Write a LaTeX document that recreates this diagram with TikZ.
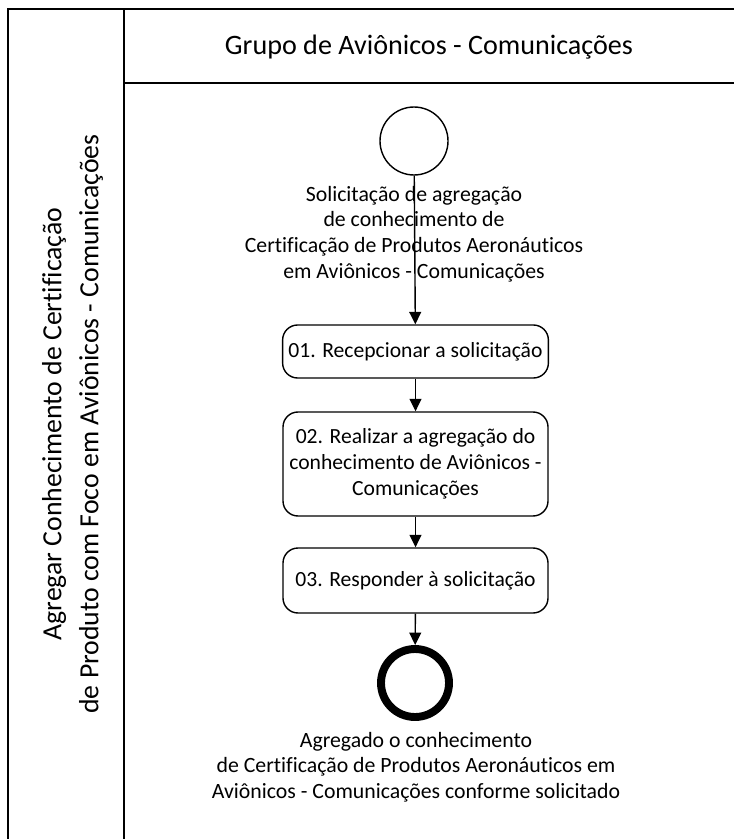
\documentclass[tikz,border=0pt]{standalone}
\usepackage{fontspec}
\setmainfont{Carlito}[Ligatures=NoCommon]
\usetikzlibrary{arrows.meta}
\usetikzlibrary{positioning}
\tikzset{
  lane/.style={line width=1.1pt},
  activity/.style={draw, rounded corners=0.3cm, minimum width=5.3cm, align=center,
    line width=0.8pt, font=\fontsize{12.3}{14.8}\selectfont},
  startev/.style={draw, circle, minimum size=1.36cm, line width=0.8pt},
  endev/.style={draw, circle, minimum size=1.36cm, line width=4.5pt},
  evlabel/.style={align=center, font=\fontsize{12.4}{14.6}\selectfont},
  flow/.style={-{Triangle[length=0.25cm,width=0.24cm]}, line width=0.8pt}
}

\begin{document}
\begin{tikzpicture}
  \useasboundingbox (0,0) rectangle (14.68,-16.78);

  % pool and lane
  \draw [lane] (0.16,-16.78) -- (0.16,-0.18) -- (14.68,-0.18);
  \draw [lane] (2.48,-0.18) -- (2.48,-16.78);
  \draw [lane] (2.48,-1.66) -- (14.68,-1.66);

  \node (lanetitle) at (8.58,-0.94) [font=\fontsize{16}{19}\selectfont] {Grupo de Aviônicos - Comunicações};
  \node (pooltitle) at (1.45,-8.48) [rotate=90, align=center, font=\fontsize{15.8}{21}\selectfont]
    {Agregar Conhecimento de Certificação\\de Produto com Foco em Aviônicos - Comunicações};

  % events and activities
  \node [startev] (start) at (8.28,-2.82) {};
  \node [evlabel] (startlbl) at (8.28,-4.68) {Solicitação de agregação\\de conhecimento de\\Certificação de Produtos Aeronáuticos\\em Aviônicos - Comunicações};

  \node [activity, minimum height=1.06cm] (recep) at (8.31,-7.03) {01. Recepcionar a solicitação};
  \node [activity, minimum height=2.08cm] (agreg) at (8.31,-9.28) {02. Realizar a agregação do\\conhecimento de Aviônicos -\\Comunicações};
  \node [activity, minimum height=1.3cm] (resp) at (8.31,-11.61) {03. Responder à solicitação};

  \node [endev] (fim) at (8.3,-13.66) {};
  \node [evlabel] (fimlbl) at (8.32,-15.34) {Agregado o conhecimento\\de Certificação de Produtos Aeronáuticos em\\Aviônicos - Comunicações conforme solicitado};

  \draw [flow] (start) -- (recep);
  \draw [flow] (recep) -- (agreg);
  \draw [flow] (agreg) -- (resp);
  \draw [flow] (resp) -- (fim);
\end{tikzpicture}
\end{document}
